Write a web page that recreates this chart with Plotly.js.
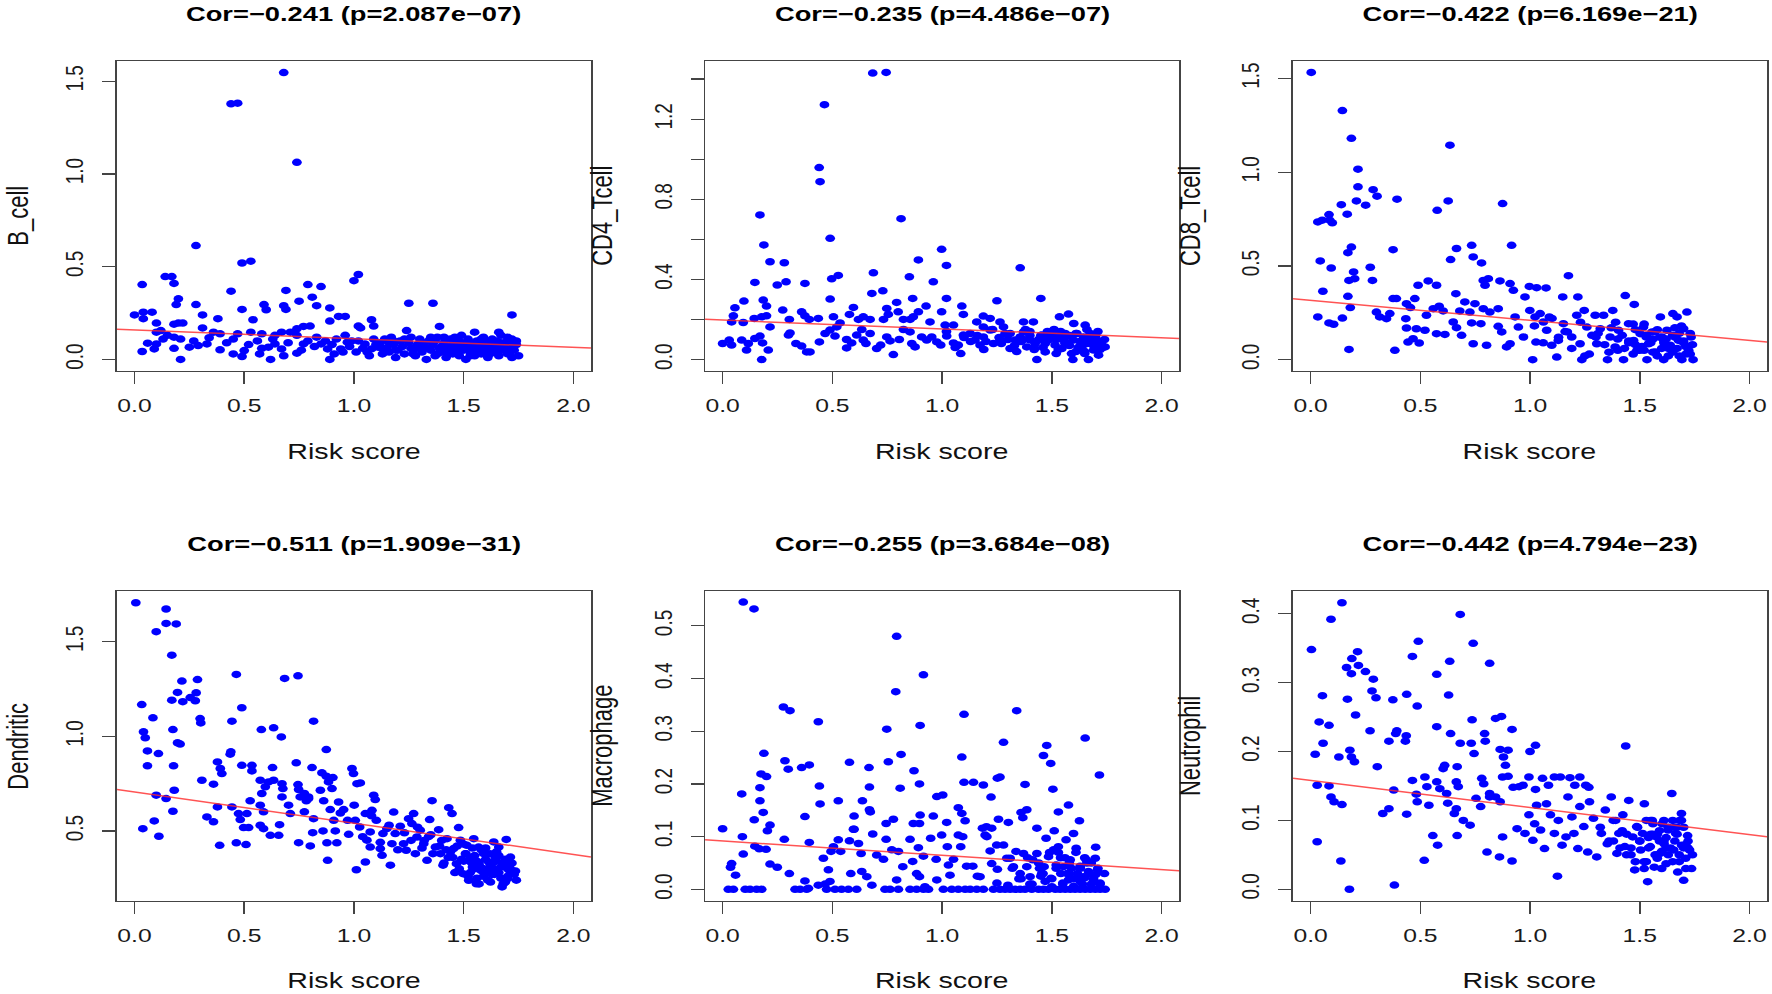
<!DOCTYPE html>
<html>
<head>
<meta charset="utf-8">
<script src="https://cdn.plot.ly/plotly-3.0.1.min.js"></script>
<style>
  html, body { margin: 0; padding: 0; background: #fff; overflow: hidden; }
  /* the source figure is stretched sideways, so the plot is drawn narrower and widened */
  #plot { width: 1363px; height: 994px; transform: scaleX(1.30007); transform-origin: 0 0; }
</style>
</head>
<body>
<div id="plot"></div>
<script>
// ---- data ----
var titles = ['Cor=\u22120.241 (p=2.087e\u221207)', 'Cor=\u22120.235 (p=4.486e\u221207)', 'Cor=\u22120.422 (p=6.169e\u221221)',
              'Cor=\u22120.511 (p=1.909e\u221231)', 'Cor=\u22120.255 (p=3.684e\u221208)', 'Cor=\u22120.442 (p=4.794e\u221223)'];
var cellTypes = ['B_cell', 'CD4_Tcell', 'CD8_Tcell', 'Dendritic', 'Macrophage', 'Neutrophil'];
var fitIntercept = [0.159, 0.197, 0.317, 0.706, 0.0918, 0.158];
var fitSlope = [-0.047, -0.044, -0.107, -0.165, -0.0271, -0.0394];

var xTicks = [0, 0.5, 1, 1.5, 2];
var xTickText = ['0.0', '0.5', '1.0', '1.5', '2.0'];

var yTicks = [
  [0, 0.5, 1, 1.5],
  [0, 0.2, 0.4, 0.6, 0.8, 1.0, 1.2, 1.4],
  [0, 0.5, 1, 1.5],
  [0.5, 1, 1.5],
  [0, 0.1, 0.2, 0.3, 0.4, 0.5],
  [0, 0.1, 0.2, 0.3, 0.4]
];
var yTickText = [
  ['0.0', '0.5', '1.0', '1.5'],
  ['0.0', '', '0.4', '', '0.8', '', '1.2', ''],
  ['0.0', '0.5', '1.0', '1.5'],
  ['0.5', '1.0', '1.5'],
  ['0.0', '0.1', '0.2', '0.3', '0.4', '0.5'],
  ['0.0', '0.1', '0.2', '0.3', '0.4']
];

var riskB = [
  0.68,0.44,0.47,0.74,0.28,0.49,0.53,0.035,0.14,0.17,
  0.18,0.44,0.69,0.79,0.85,1.0,1.02,0.2,0.19,0.28,
  0.75,0.81,0.59,0.6,0.68,0.69,0.89,0.83,1.25,1.36,
  0.49,0.0,0.04,0.04,0.08,0.31,0.38,0.1,0.18,0.2,
  0.22,0.54,0.93,0.96,0.89,1.08,1.03,1.02,1.09,1.39,
  1.72,0.31,0.74,0.77,0.8,1.24,1.55,1.66,0.1,0.12,
  0.15,0.18,0.21,0.34,0.36,0.39,0.45,0.47,0.53,0.58,
  0.64,0.67,0.71,0.74,0.56,0.42,0.27,0.13,0.83,0.92,
  0.96,0.99,0.035,0.06,0.1,0.09,0.18,0.21,0.25,0.29,
  0.33,0.39,0.45,0.49,0.5,0.57,0.62,0.61,0.64,0.67,
  0.68,0.74,0.77,0.79,0.85,0.88,0.89,0.91,0.94,0.97,
  1.01,1.05,1.08,1.11,1.12,1.13,1.14,1.15,1.16,1.17,
  1.18,1.19,1.2,1.21,1.22,1.23,1.25,1.26,1.27,1.28,
  1.29,1.3,1.31,1.32,1.33,1.34,1.35,1.36,1.37,1.38,
  1.39,1.4,1.41,1.42,1.43,1.44,1.45,1.46,1.47,1.48,
  1.49,1.5,1.5,1.51,1.52,1.53,1.54,1.55,1.56,1.57,
  1.58,1.59,1.6,1.61,1.62,1.63,1.64,1.65,1.66,1.67,
  1.68,1.69,1.7,1.71,1.72,1.72,1.73,1.74,1.75,1.6,
  1.46,1.38,1.26,1.18,1.07,1.09,1.04,1.53,1.64,1.7,
  1.43,1.57,1.67,1.35,1.49,1.62,1.74,1.3,1.41,1.55,
  1.02,1.06,1.1,1.13,1.16,1.19,1.23,1.27,1.31,1.34,
  1.37,1.4,1.42,1.45,1.47,1.51,1.53,1.56,1.58,1.61,
  1.63,1.65,1.68,1.7,1.73,1.48,1.52,1.59,1.66,1.71,
  0.52,0.58,0.63,0.7,0.76,0.82,0.87,0.9,0.95,0.98
];
var bCell = [
  1.547,1.378,1.382,1.063,0.614,0.52,0.53,0.404,0.447,0.447,
  0.41,0.368,0.372,0.404,0.393,0.425,0.458,0.327,0.296,0.296,
  0.314,0.336,0.296,0.268,0.29,0.27,0.278,0.29,0.303,0.303,
  0.27,0.24,0.255,0.22,0.255,0.24,0.22,0.196,0.19,0.196,
  0.196,0.214,0.232,0.232,0.207,0.214,0.17,0.18,0.18,0.178,
  0.24,0.17,0.165,0.178,0.18,0.156,0.147,0.147,0.147,0.156,
  0.13,0.12,0.11,0.117,0.147,0.138,0.11,0.138,0.147,0.138,
  0.13,0.147,0.147,0.13,0.1,0.09,0.1,0.11,0.12,0.11,
  0.13,0.1,0.043,0.088,0.084,0.057,0.06,0.0,0.066,0.075,
  0.084,0.052,0.03,0.016,0.048,0.03,0.0,0.066,0.084,0.057,
  0.02,0.034,0.084,0.1,0.084,0.057,0.0,0.03,0.057,0.093,
  0.04,0.084,0.057,0.066,0.09,0.03,0.11,0.06,0.04,0.12,
  0.08,0.01,0.05,0.1,0.07,0.03,0.09,0.12,0.05,0.02,
  0.08,0.11,0.04,0.07,0.0,0.1,0.05,0.08,0.02,0.12,
  0.06,0.04,0.09,0.01,0.07,0.11,0.03,0.06,0.09,0.02,
  0.13,0.05,0.08,0.0,0.11,0.04,0.07,0.02,0.1,0.06,
  0.03,0.09,0.05,0.01,0.08,0.11,0.04,0.07,0.02,0.13,
  0.05,0.09,0.03,0.07,0.11,0.01,0.05,0.08,0.02,0.1,
  0.12,0.03,0.06,0.1,0.02,0.11,0.06,0.09,0.06,0.1,
  0.04,0.08,0.09,0.12,0.06,0.03,0.1,0.06,0.12,0.05,
  0.1,0.04,0.08,0.06,0.09,0.05,0.11,0.03,0.09,0.06,
  0.1,0.07,0.04,0.08,0.05,0.09,0.02,0.06,0.11,0.07,
  0.04,0.1,0.06,0.12,0.08,0.1,0.07,0.12,0.05,0.04,
  0.08,0.06,0.11,0.09,0.05,0.07,0.1,0.08,0.04,0.07
];

var riskCD4 = [
  0.684,0.745,0.464,0.44,0.444,0.17,0.813,0.49,0.188,0.216,
  0.281,0.998,1.02,0.892,1.356,0.147,0.249,0.289,0.375,0.497,
  0.527,0.687,0.851,0.96,0.68,0.73,0.097,0.056,0.185,0.2,
  0.274,0.49,0.596,0.793,0.866,0.927,1.02,1.09,1.25,1.45,
  1.535,1.576,0.748,0.755,0.8,0.892,0.998,1.097,1.188,0.049,
  0.041,0.094,0.144,0.178,0.2,0.216,0.304,0.36,0.375,0.395,
  0.436,0.505,0.535,0.578,0.619,0.641,0.672,0.733,0.824,0.854,
  0.869,0.945,1.014,1.052,1.158,1.188,1.219,1.264,1.28,1.371,
  1.416,1.6,1.652,0.0,0.03,0.041,0.087,0.109,0.117,0.147,
  0.17,0.182,0.178,0.208,0.3,0.307,0.334,0.36,0.383,0.398,
  0.441,0.467,0.489,0.52,0.512,0.565,0.588,0.565,0.611,0.634,
  0.653,0.641,0.672,0.702,0.72,0.748,0.778,0.763,0.805,0.824,
  0.862,0.877,0.854,0.907,0.93,0.953,0.976,0.994,1.021,1.052,
  1.074,1.085,1.097,1.128,1.15,1.173,1.188,1.219,1.234,1.264,
  1.287,1.31,1.333,1.356,1.371,1.386,1.401,1.424,1.432,1.454,
  1.47,1.485,1.5,1.515,1.53,1.546,1.561,1.576,1.596,1.599,
  1.614,1.629,1.644,1.66,1.667,1.675,1.69,1.705,1.713,1.728,
  1.743,1.55,1.62,1.68,1.72,1.47,1.4,1.33,1.58,1.65,
  1.7,1.52,1.44,1.36,1.26,1.2,1.3,1.42,1.49,1.56,
  1.63,1.69,1.74,1.61,1.54,1.66,1.71,1.38,1.46,1.64,
  1.02,1.06,1.1,1.13,1.16,1.19,1.23,1.27,1.31,1.34,
  1.37,1.4,1.42,1.45,1.47,1.51,1.53,1.56,1.58,1.61,
  1.63,1.65,1.68,1.7,1.73,1.48,1.52,1.59,1.66,1.71
];
var cd4Tcell = [
  1.43,1.433,1.272,0.958,0.888,0.722,0.703,0.605,0.572,0.488,
  0.483,0.55,0.47,0.497,0.458,0.385,0.372,0.388,0.38,0.403,
  0.42,0.433,0.413,0.388,0.33,0.343,0.292,0.258,0.297,0.267,
  0.247,0.302,0.26,0.285,0.305,0.267,0.305,0.267,0.293,0.305,
  0.213,0.227,0.255,0.225,0.238,0.238,0.238,0.225,0.217,0.218,
  0.188,0.185,0.205,0.213,0.218,0.163,0.2,0.238,0.218,0.2,
  0.205,0.213,0.183,0.225,0.2,0.213,0.2,0.2,0.2,0.2,
  0.213,0.188,0.172,0.172,0.188,0.163,0.205,0.188,0.163,0.188,
  0.188,0.18,0.172,0.08,0.097,0.072,0.097,0.047,0.08,0.105,
  0.117,0.083,0.0,0.047,0.122,0.133,0.08,0.067,0.038,0.038,
  0.088,0.13,0.147,0.163,0.117,0.058,0.083,0.1,0.122,0.15,
  0.08,0.097,0.13,0.055,0.072,0.113,0.025,0.093,0.1,0.15,
  0.08,0.063,0.138,0.113,0.097,0.113,0.088,0.072,0.117,0.083,
  0.072,0.03,0.122,0.13,0.097,0.072,0.113,0.147,0.08,0.097,
  0.13,0.055,0.097,0.113,0.138,0.063,0.097,0.08,0.0,0.122,
  0.038,0.097,0.13,0.072,0.113,0.055,0.13,0.08,0.0,0.097,
  0.13,0.055,0.113,0.08,0.0,0.13,0.047,0.097,0.022,0.072,
  0.063,0.1,0.06,0.1,0.05,0.08,0.12,0.07,0.12,0.03,
  0.12,0.03,0.1,0.09,0.11,0.09,0.1,0.05,0.11,0.08,
  0.09,0.07,0.1,0.04,0.14,0.15,0.14,0.15,0.06,0.07,
  0.14,0.06,0.11,0.09,0.12,0.05,0.15,0.08,0.13,0.04,
  0.1,0.14,0.06,0.12,0.09,0.15,0.05,0.11,0.07,0.13,
  0.09,0.04,0.12,0.08,0.06,0.14,0.1,0.03,0.11,0.09
];

var riskCD8 = [
  0.003,0.145,0.186,0.635,0.216,0.216,0.285,0.303,0.209,0.251,
  0.14,0.167,0.394,0.577,0.627,0.875,0.033,0.053,0.084,0.099,
  0.087,0.044,0.094,0.17,0.186,0.376,0.638,0.665,0.734,0.741,
  0.779,0.916,0.272,0.282,0.196,0.175,0.201,0.056,0.17,0.181,
  0.033,0.084,0.105,0.145,0.175,0.384,0.376,0.391,0.3,0.315,
  0.346,0.361,0.437,0.455,0.475,0.49,0.434,0.437,0.444,0.467,
  0.495,0.482,0.521,0.528,0.536,0.574,0.559,0.586,0.604,0.574,
  0.612,0.65,0.665,0.688,0.662,0.68,0.703,0.726,0.749,0.734,
  0.741,0.776,0.802,0.787,0.81,0.795,0.787,0.817,0.855,0.863,
  0.909,0.924,0.855,0.871,0.893,0.909,0.932,0.947,0.97,0.977,
  0.997,1.03,1.073,0.999,1.023,1.012,1.027,1.046,1.061,1.076,
  1.088,1.099,1.122,1.129,1.149,1.175,1.152,1.17,1.19,1.218,
  1.213,1.228,1.236,1.247,1.259,1.282,1.297,1.304,1.32,1.335,
  1.353,1.365,1.377,1.388,1.403,1.426,1.434,1.449,1.475,1.472,
  1.487,1.502,1.517,1.533,1.54,1.556,1.571,1.594,1.601,1.609,
  1.624,1.639,1.651,1.67,1.677,1.692,1.7,1.715,1.723,1.734,
  1.743,1.45,1.5,1.55,1.58,1.62,1.65,1.68,1.71,1.73,
  1.6,1.53,1.47,1.4,1.43,1.36,1.3,1.25,1.67,1.7,
  1.57,1.63,1.52,1.66,1.74,1.48,1.61,1.69,1.56,1.39,
  1.02,1.06,1.1,1.13,1.16,1.19,1.23,1.27,1.31,1.34,
  1.37,1.4,1.42,1.45,1.47,1.51,1.53,1.56,1.58,1.61,
  1.63,1.65,1.68,1.7,1.73,1.48,1.52,1.59,1.66,1.71
];
var cd8Tcell = [
  1.532,1.329,1.181,1.144,1.016,0.922,0.907,0.872,0.847,0.824,
  0.827,0.776,0.856,0.797,0.847,0.833,0.735,0.744,0.774,0.73,
  0.744,0.527,0.489,0.571,0.601,0.587,0.534,0.593,0.61,0.548,
  0.516,0.61,0.493,0.423,0.468,0.423,0.432,0.365,0.338,0.278,
  0.228,0.196,0.189,0.222,0.055,0.05,0.326,0.326,0.254,0.228,
  0.219,0.246,0.299,0.278,0.326,0.397,0.219,0.169,0.094,0.112,
  0.089,0.165,0.157,0.237,0.42,0.397,0.272,0.285,0.26,0.139,
  0.135,0.201,0.171,0.13,0.352,0.26,0.308,0.254,0.299,0.196,
  0.085,0.192,0.077,0.423,0.432,0.397,0.272,0.254,0.272,0.42,
  0.406,0.37,0.178,0.148,0.068,0.085,0.228,0.174,0.121,0.335,
  0.391,0.384,0.383,0.263,0.228,0.0,0.094,0.246,0.201,0.157,
  0.228,0.077,0.014,0.103,0.335,0.448,0.192,0.148,0.121,0.335,
  0.237,0.085,0.0,0.263,0.174,0.13,0.237,0.085,0.165,0.237,
  0.0,0.121,0.263,0.068,0.157,0.0,0.342,0.192,0.295,0.103,
  0.05,0.139,0.174,0.0,0.085,0.148,0.041,0.228,0.121,0.0,
  0.157,0.077,0.246,0.228,0.103,0.0,0.165,0.254,0.05,0.121,
  0.0,0.1,0.05,0.09,0.02,0.11,0.04,0.14,0.07,0.03,
  0.06,0.13,0.03,0.11,0.06,0.04,0.12,0.02,0.06,0.1,
  0.15,0.02,0.19,0.12,0.08,0.16,0.09,0.18,0.11,0.2,
  0.18,0.09,0.22,0.12,0.15,0.06,0.2,0.03,0.14,0.08,
  0.17,0.05,0.13,0.09,0.19,0.07,0.12,0.04,0.16,0.1,
  0.06,0.13,0.02,0.09,0.14,0.08,0.05,0.12,0.17,0.03
];

var riskDC = [
  0.006,0.144,0.144,0.19,0.099,0.17,0.216,0.287,0.196,0.281,
  0.17,0.22,0.254,0.277,0.464,0.684,0.745,0.033,0.489,0.084,
  0.299,0.302,0.444,0.816,0.041,0.049,0.175,0.196,0.208,0.578,
  0.634,0.669,0.059,0.109,0.439,0.436,0.874,0.059,0.178,0.378,
  0.391,0.398,0.489,0.535,0.535,0.629,0.737,0.809,0.854,0.874,
  0.904,0.991,0.998,1.014,1.029,0.307,0.36,0.573,0.596,0.611,
  0.634,0.672,0.676,0.745,0.748,0.755,0.774,0.793,0.099,0.181,
  0.144,0.175,0.09,0.038,0.111,0.33,0.36,0.378,0.444,0.388,
  0.464,0.508,0.474,0.482,0.512,0.527,0.497,0.52,0.573,0.588,
  0.58,0.573,0.588,0.619,0.657,0.661,0.672,0.702,0.71,0.748,
  0.801,0.774,0.783,0.793,0.816,0.812,0.859,0.877,0.88,0.847,
  0.862,0.884,0.9,0.892,0.908,0.915,0.922,0.93,0.938,0.953,
  0.971,0.976,1.001,1.006,1.011,1.026,1.052,1.059,1.074,1.052,
  1.074,1.082,1.09,1.097,1.102,1.12,1.128,1.132,1.15,1.166,
  1.173,1.181,1.188,1.211,1.226,1.238,1.249,1.264,1.272,1.28,
  1.287,1.302,1.318,1.333,1.345,1.356,1.371,1.386,1.394,1.406,
  1.424,1.432,1.447,1.454,1.467,1.477,1.485,1.497,1.508,1.515,
  1.523,1.533,1.546,1.558,1.568,1.576,1.591,1.603,1.614,1.622,
  1.637,1.644,1.652,1.66,1.675,1.686,1.694,1.7,1.713,1.72,
  1.736,1.5,1.55,1.6,1.63,1.66,1.69,1.71,1.58,1.53,
  1.45,1.42,1.48,1.62,1.67,1.73,1.56,1.64,1.68,1.4,
  1.51,1.54,1.57,1.61,1.65,1.7,1.47,1.59,1.43,1.35,
  1.32,1.36,1.39,1.41,1.44,1.46,1.49,1.5,1.52,1.54,
  1.55,1.57,1.58,1.6,1.61,1.63,1.64,1.65,1.67,1.68,
  1.69,1.7,1.71,1.72,1.74,1.56,1.62,1.66,1.53,1.59,
  1.04,1.08,1.12,1.16,1.2,1.23,1.26,1.29,1.31,1.34
];
var dendritic = [
  1.706,1.673,1.597,1.594,1.553,1.429,1.292,1.3,1.232,1.23,
  1.191,1.183,1.205,1.188,1.327,1.306,1.32,1.168,1.151,1.098,
  1.094,1.071,1.08,1.08,1.024,0.992,1.036,0.966,0.959,1.036,
  1.045,0.997,0.923,0.909,0.918,0.906,0.93,0.844,0.844,0.865,
  0.83,0.803,0.847,0.847,0.817,0.835,0.86,0.835,0.807,0.789,
  0.782,0.83,0.803,0.75,0.754,0.768,0.747,0.768,0.733,0.759,
  0.768,0.75,0.724,0.745,0.719,0.68,0.698,0.671,0.689,0.715,
  0.671,0.604,0.553,0.512,0.472,0.574,0.548,0.627,0.627,0.424,
  0.437,0.428,0.592,0.56,0.592,0.659,0.518,0.518,0.636,0.601,
  0.698,0.53,0.512,0.477,0.477,0.533,0.68,0.636,0.592,0.438,
  0.421,0.601,0.659,0.68,0.565,0.491,0.5,0.437,0.345,0.715,
  0.659,0.759,0.724,0.613,0.556,0.5,0.437,0.653,0.595,0.613,
  0.556,0.482,0.636,0.556,0.295,0.521,0.592,0.451,0.495,0.336,
  0.415,0.609,0.689,0.666,0.556,0.407,0.371,0.486,0.512,0.319,
  0.433,0.6,0.486,0.525,0.433,0.398,0.565,0.539,0.592,0.38,
  0.468,0.504,0.433,0.345,0.56,0.66,0.415,0.507,0.38,0.319,
  0.459,0.623,0.592,0.407,0.327,0.518,0.451,0.274,0.38,0.424,
  0.239,0.336,0.459,0.221,0.415,0.31,0.38,0.274,0.336,0.23,
  0.442,0.362,0.292,0.415,0.204,0.319,0.455,0.248,0.362,0.292,
  0.288,0.34,0.3,0.35,0.27,0.37,0.23,0.32,0.4,0.28,
  0.36,0.4,0.3,0.31,0.25,0.27,0.25,0.3,0.33,0.45,
  0.38,0.41,0.33,0.29,0.34,0.3,0.42,0.26,0.36,0.48,
  0.45,0.38,0.42,0.33,0.39,0.28,0.35,0.43,0.26,0.31,
  0.37,0.22,0.29,0.41,0.24,0.33,0.27,0.39,0.31,0.22,
  0.35,0.26,0.29,0.33,0.24,0.34,0.38,0.28,0.36,0.3,
  0.47,0.58,0.44,0.53,0.4,0.49,0.45,0.52,0.41,0.47
];

var riskMac = [
  0.094,0.143,0.793,0.915,0.789,0.277,0.307,0.436,1.1,1.34,
  0.748,0.9,1.652,1.28,1.477,1.462,1.495,0.188,0.284,0.299,
  0.36,0.395,0.578,0.667,0.755,0.813,1.09,0.175,0.2,1.717,
  1.264,1.252,0.872,0.087,0.17,0.17,0.441,0.444,0.669,0.809,
  0.897,1.1,1.143,1.188,1.378,1.505,0.185,0.216,0.204,0.144,
  0.375,0.527,0.637,0.669,0.673,0.599,0.599,0.745,0.778,0.869,
  0.897,0.9,0.96,0.976,1.003,1.021,1.074,1.09,1.105,1.223,
  1.184,1.202,1.226,1.257,1.302,1.36,1.386,1.368,1.432,1.511,
  1.53,1.576,1.626,0.0,0.09,0.094,0.041,0.036,0.059,0.147,
  0.167,0.198,0.216,0.249,0.281,0.304,0.375,0.391,0.395,0.436,
  0.467,0.489,0.459,0.482,0.494,0.505,0.527,0.538,0.578,0.584,
  0.596,0.619,0.631,0.634,0.657,0.68,0.684,0.702,0.733,0.745,
  0.771,0.793,0.801,0.821,0.854,0.866,0.884,0.892,0.897,0.915,
  0.922,0.948,0.973,0.976,0.998,1.024,1.029,1.036,1.052,1.074,
  1.085,1.094,1.112,1.14,1.161,1.173,1.196,1.204,1.219,1.226,
  1.249,1.252,1.28,1.295,1.31,1.325,1.337,1.356,1.371,1.386,
  1.401,1.413,1.432,1.444,1.454,1.465,1.474,1.485,1.496,1.508,
  1.52,1.53,1.541,1.553,1.565,1.576,1.584,1.599,1.611,1.617,
  1.629,1.644,1.657,1.667,1.69,1.698,1.708,1.25,1.3,1.4,
  1.47,1.5,1.55,1.6,1.63,1.68,1.72,1.45,1.58,1.35,
  1.65,1.7,0.026,0.049,0.103,0.125,0.155,0.178,0.33,0.353,
  0.383,0.474,0.512,0.542,0.573,0.611,0.74,0.763,0.801,0.854,
  0.884,0.915,0.938,1.006,1.044,1.074,1.105,1.128,1.158,1.188,
  1.234,1.264,1.287,1.31,1.333,1.356,1.378,1.409,1.44,1.462,
  1.485,1.516,1.538,1.561,1.584,1.606,1.629,1.652,1.675,1.698,
  1.72,1.743,1.32,1.36,1.39,1.41,1.44,1.46,1.49,1.5,
  1.52,1.54,1.55,1.57,1.58,1.6,1.61,1.63,1.64,1.65,
  1.67,1.68,1.69,1.7,1.71,1.72,1.74,1.56,1.62,1.66,
  1.53,1.59
];
var macrophage = [
  0.545,0.532,0.48,0.407,0.375,0.346,0.339,0.318,0.332,0.339,
  0.304,0.311,0.287,0.279,0.273,0.254,0.239,0.258,0.244,0.228,
  0.231,0.236,0.241,0.231,0.242,0.256,0.251,0.219,0.214,0.217,
  0.213,0.211,0.225,0.181,0.193,0.168,0.196,0.162,0.194,0.192,
  0.2,0.203,0.203,0.198,0.199,0.19,0.146,0.122,0.111,0.132,
  0.138,0.168,0.168,0.151,0.147,0.139,0.114,0.125,0.133,0.125,
  0.125,0.141,0.139,0.176,0.179,0.127,0.155,0.144,0.13,0.175,
  0.116,0.119,0.116,0.133,0.127,0.146,0.151,0.136,0.116,0.111,
  0.147,0.16,0.13,0.115,0.1,0.067,0.049,0.042,0.027,0.082,
  0.077,0.076,0.048,0.042,0.095,0.03,0.016,0.002,0.089,0.008,
  0.01,0.015,0.059,0.037,0.072,0.081,0.094,0.072,0.092,0.03,
  0.114,0.087,0.068,0.034,0.024,0.008,0.105,0.065,0.057,0.095,
  0.075,0.018,0.072,0.043,0.095,0.053,0.03,0.079,0.024,0.063,
  0.005,0.097,0.057,0.018,0.103,0.081,0.046,0.027,0.057,0.103,
  0.081,0.1,0.044,0.044,0.025,0.024,0.103,0.1,0.073,0.049,
  0.084,0.038,0.084,0.059,0.059,0.043,0.072,0.03,0.068,0.043,
  0.024,0.056,0.068,0.04,0.03,0.043,0.097,0.062,0.021,0.075,
  0.046,0.081,0.03,0.043,0.094,0.018,0.056,0.106,0.078,0.03,
  0.044,0.024,0.056,0.034,0.018,0.059,0.037,0.012,0.008,0.01,
  0.015,0.005,0.012,0.006,0.015,0.01,0.012,0.025,0.03,0.02,
  0.022,0.028,0,0,0,0,0,0,0,0,
  0,0,0,0,0,0,0,0,0,0,
  0,0,0,0,0,0,0,0,0,0,
  0,0,0,0,0,0,0,0,0,0,
  0,0,0,0,0,0,0,0,0,0,
  0,0,0.04,0.02,0.06,0.01,0.05,0.03,0.07,0.02,
  0.04,0.06,0.01,0.03,0.05,0.02,0.07,0.04,0.01,0.06,
  0.03,0.05,0.02,0.08,0.04,0.01,0.03,0.06,0.02,0.05,
  0.07,0.04
];

var riskNeu = [
  0.143,0.093,0.682,0.004,0.491,0.741,0.188,0.214,0.464,0.634,
  0.816,0.164,0.186,0.218,0.25,0.286,0.575,0.28,0.298,0.054,
  0.168,0.375,0.438,0.629,0.486,0.205,0.039,0.084,0.271,0.393,
  0.388,0.436,0.432,0.357,0.575,0.638,0.736,0.843,0.87,0.918,
  0.793,0.796,0.682,0.732,0.057,0.021,0.129,0.179,0.186,0.2,
  0.304,0.745,0.668,0.604,0.611,0.864,0.9,0.879,0.888,1.0,
  1.025,1.436,0.03,0.084,0.093,0.107,0.143,0.379,0.329,0.357,
  0.438,0.464,0.482,0.486,0.521,0.53,0.539,0.575,0.589,0.62,
  0.625,0.664,0.673,0.664,0.655,0.696,0.727,0.754,0.78,0.789,
  0.816,0.775,0.816,0.843,0.864,0.875,0.9,0.923,0.95,0.968,
  0.995,1.025,1.03,1.057,1.084,1.111,1.138,1.182,1.204,1.227,
  1.254,1.268,0.557,0.579,0.668,0.804,0.861,0.875,0.918,0.518,
  0.138,0.03,0.177,0.382,1.125,0.941,0.977,0.995,1.013,1.021,
  1.048,1.066,1.075,1.093,1.111,1.129,1.146,1.164,1.173,1.191,
  1.2,1.218,1.227,1.245,1.263,1.271,1.289,1.304,1.325,1.343,
  1.352,1.37,1.379,1.396,1.405,1.423,1.432,1.45,1.468,1.477,
  1.486,1.504,1.513,1.521,1.536,1.548,1.557,1.566,1.575,1.593,
  1.602,1.611,1.62,1.629,1.646,1.655,1.664,1.673,1.682,1.691,
  1.7,1.709,1.718,1.727,1.736,1.5,1.55,1.58,1.62,1.65,
  1.68,1.7,1.72,1.6,1.53,1.46,1.42,1.38,1.66,1.63,
  1.56,1.48,1.52,1.69,1.44,1.59,1.67,1.71,1.54,1.61,
  1.32,1.36,1.39,1.41,1.44,1.46,1.49,1.5,1.52,1.54,
  1.55,1.57,1.58,1.6,1.61,1.63,1.64,1.65,1.67,1.68,
  1.69,1.7,1.71,1.72,1.74,1.56,1.62,1.66,1.53,1.59
];
var neutrophil = [
  0.416,0.392,0.399,0.348,0.36,0.357,0.335,0.345,0.338,0.331,
  0.328,0.322,0.313,0.325,0.316,0.305,0.312,0.288,0.278,0.281,
  0.276,0.275,0.283,0.282,0.266,0.253,0.243,0.238,0.23,0.23,
  0.226,0.223,0.215,0.215,0.236,0.226,0.246,0.248,0.251,0.232,
  0.226,0.215,0.212,0.212,0.212,0.196,0.192,0.202,0.192,0.185,
  0.178,0.197,0.178,0.175,0.18,0.203,0.202,0.192,0.18,0.2,
  0.209,0.208,0.151,0.15,0.134,0.127,0.123,0.144,0.11,0.117,
  0.109,0.158,0.138,0.127,0.163,0.149,0.122,0.156,0.146,0.139,
  0.125,0.156,0.149,0.117,0.11,0.1,0.093,0.132,0.161,0.153,
  0.139,0.12,0.134,0.134,0.127,0.163,0.164,0.148,0.149,0.151,
  0.163,0.145,0.122,0.161,0.151,0.163,0.163,0.162,0.151,0.163,
  0.151,0.148,0.078,0.064,0.078,0.054,0.047,0.076,0.041,0.042,
  0.041,0.069,0.0,0.006,0.019,0.088,0.081,0.108,0.071,0.095,
  0.086,0.059,0.124,0.108,0.081,0.1,0.064,0.076,0.134,0.105,
  0.081,0.059,0.12,0.091,0.054,0.127,0.103,0.047,0.081,0.115,
  0.066,0.134,0.1,0.052,0.081,0.108,0.062,0.129,0.076,0.028,
  0.091,0.057,0.081,0.124,0.011,0.062,0.1,0.032,0.076,0.052,
  0.095,0.066,0.037,0.086,0.139,0.057,0.081,0.025,0.1,0.064,
  0.013,0.045,0.078,0.057,0.03,0.07,0.08,0.045,0.075,0.1,
  0.04,0.09,0.06,0.055,0.1,0.06,0.085,0.07,0.07,0.05,
  0.095,0.04,0.03,0.11,0.05,0.085,0.09,0.065,0.075,0.1,
  0.09,0.07,0.1,0.06,0.08,0.05,0.09,0.07,0.04,0.06,
  0.1,0.05,0.08,0.03,0.07,0.09,0.06,0.04,0.08,0.05,
  0.1,0.06,0.03,0.07,0.05,0.08,0.06,0.09,0.04,0.07
];

// ---- layout of the 2x3 grid ----
var colDomains = [[0.066, 0.3335], [0.3979, 0.6654], [0.7297, 0.9972]];
var rowDomains = [[0.6268, 0.9386], [0.0936, 0.4054]];
var titleY = [0.9865, 0.4535];
var xTitleY = [0.5453, 0.0131];
var yTitleX = [0.0108, 0.3403, 0.6721];
var yRanges = [[-0.062, 1.609], [-0.057, 1.49], [-0.06, 1.593], [0.13, 1.768], [-0.022, 0.566], [-0.017, 0.433]];
var xRange = [-0.08, 2.08];

var panels = [
  {x: riskB, y: bCell},
  {x: riskCD4, y: cd4Tcell},
  {x: riskCD8, y: cd8Tcell},
  {x: riskDC, y: dendritic},
  {x: riskMac, y: macrophage},
  {x: riskNeu, y: neutrophil}
];

var tickFont = {family: 'Liberation Sans, Arial, sans-serif', size: 19, color: '#1a1a1a'};
var labelFont = {family: 'Liberation Sans, Arial, sans-serif', size: 22, color: '#111'};

var traces = [];
var layout = {
  width: 1363,
  height: 994,
  margin: {l: 0, r: 0, t: 0, b: 0},
  paper_bgcolor: '#fff',
  plot_bgcolor: '#fff',
  showlegend: false,
  annotations: []
};

panels.forEach(function(p, i) {
  var n = i + 1;
  var suffix = n > 1 ? String(n) : '';
  var col = i % 3, row = Math.floor(i / 3);

  traces.push({
    type: 'scatter',
    mode: 'markers',
    x: p.x,
    y: p.y,
    xaxis: 'x' + suffix,
    yaxis: 'y' + suffix,
    marker: {size: 7.5, color: '#0000ff'},
    hoverinfo: 'skip'
  });
  traces.push({
    type: 'scatter',
    mode: 'lines',
    x: xRange,
    y: xRange.map(function(v) { return fitIntercept[i] + fitSlope[i] * v; }),
    xaxis: 'x' + suffix,
    yaxis: 'y' + suffix,
    line: {color: 'rgba(255,40,40,0.8)', width: 1.5},
    hoverinfo: 'skip'
  });

  layout['xaxis' + suffix] = {
    domain: colDomains[col],
    anchor: 'y' + suffix,
    range: xRange,
    tickmode: 'array',
    tickvals: xTicks,
    ticktext: xTickText,
    ticks: 'outside',
    ticklen: 12,
    tickwidth: 1.2,
    tickcolor: '#444',
    ticklabelstandoff: 5,
    tickfont: tickFont,
    showline: true,
    mirror: true,
    linecolor: '#444',
    linewidth: 1.2,
    showgrid: false,
    zeroline: false
  };
  layout['yaxis' + suffix] = {
    domain: rowDomains[row],
    anchor: 'x' + suffix,
    range: yRanges[i],
    tickmode: 'array',
    tickvals: yTicks[i],
    ticktext: yTickText[i],
    tickangle: -90,
    ticks: 'outside',
    ticklen: 10,
    tickwidth: 1.2,
    tickcolor: '#444',
    ticklabelstandoff: 7,
    tickfont: tickFont,
    showline: true,
    mirror: true,
    linecolor: '#444',
    linewidth: 1.2,
    showgrid: false,
    zeroline: false
  };

  var centerX = (colDomains[col][0] + colDomains[col][1]) / 2;
  var centerY = (rowDomains[row][0] + rowDomains[row][1]) / 2;
  layout.annotations.push({
    text: titles[i], xref: 'paper', yref: 'paper', x: centerX, y: titleY[row],
    xanchor: 'center', yanchor: 'middle', showarrow: false,
    font: {family: 'Liberation Sans, Arial, sans-serif', size: 21, color: '#000', weight: 'bold'}
  });
  layout.annotations.push({
    text: 'Risk score', xref: 'paper', yref: 'paper', x: centerX, y: xTitleY[row],
    xanchor: 'center', yanchor: 'middle', showarrow: false, font: labelFont
  });
  layout.annotations.push({
    text: cellTypes[i], xref: 'paper', yref: 'paper', x: yTitleX[col], y: centerY,
    xanchor: 'center', yanchor: 'middle', textangle: -90, showarrow: false, font: labelFont
  });
});

Plotly.newPlot('plot', traces, layout, {staticPlot: true, displayModeBar: false});
</script>
</body>
</html>
